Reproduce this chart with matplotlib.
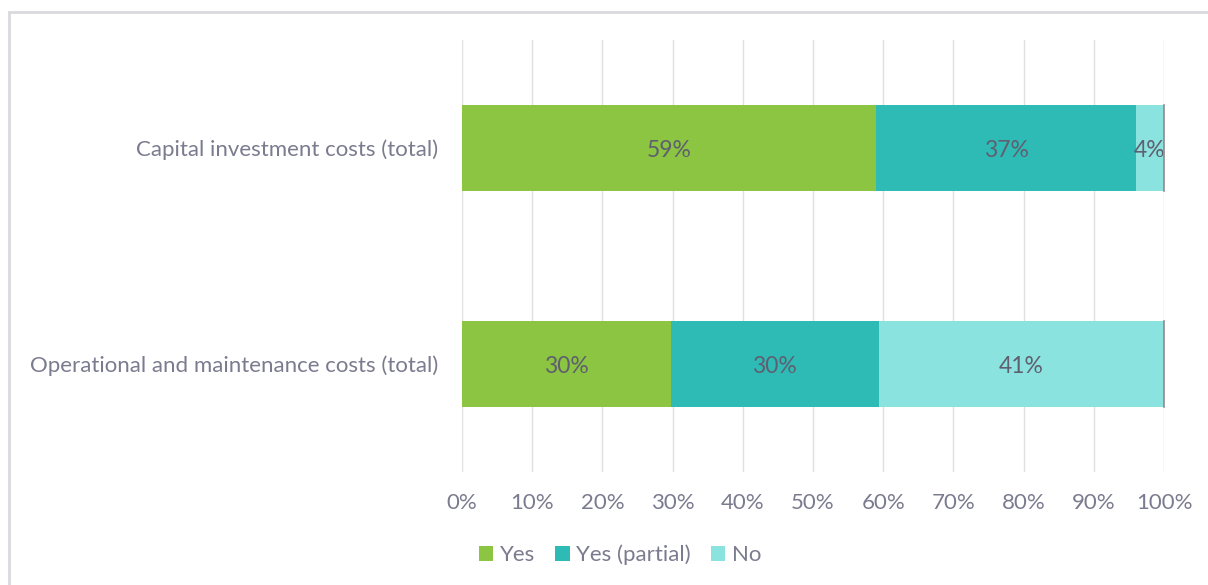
import matplotlib.pyplot as plt
from matplotlib.patches import Rectangle

plt.rcParams['font.family'] = ['Lato', 'DejaVu Sans']

categories = ['Capital investment costs (total)', 'Operational and maintenance costs (total)']
series = ['Yes', 'Yes (partial)', 'No']
yes = [59, 30]
yes_partial = [37, 30]
no = [4, 41]
colors = ['#8bc541', '#2ebbb5', '#8ae3df']
ticks = list(range(0, 101, 10))

text_color = '#7b7b8f'
label_color = '#5f5f6f'

fig = plt.figure(figsize=(12.08, 5.85), dpi=100)
ax = fig.add_axes([462 / 1208, 1 - 472 / 585, (1164 - 462) / 1208, 432 / 585])

# chart area frame
fig.patches.append(Rectangle((9 / 1208, -0.01), 1.2, 1 - 12 / 585 + 0.01,
                             transform=fig.transFigure, fill=False,
                             edgecolor='#d9d9de', linewidth=2))

# 100% stacked: each row is scaled by its own total
values = [yes, yes_partial, no]
totals = [sum(v[i] for v in values) for i in range(len(categories))]
ypos = list(range(len(categories)))
left = [0.0] * len(categories)
for name, vals, col in zip(series, values, colors):
    widths = [v / t * 100 for v, t in zip(vals, totals)]
    ax.barh(ypos, widths, left=left, height=0.4, color=col, label=name, zorder=2)
    for y, l, w, v in zip(ypos, left, widths, vals):
        ax.text(l + w / 2, y + 0.01, f'{v}%', ha='center', va='center',
                fontsize=16.5, color=label_color, zorder=3)
    left = [l + w for l, w in zip(left, widths)]

for y in ypos:
    ax.plot([100, 100], [y - 0.2, y + 0.2], color='#8c8c8c', linewidth=1.2,
            zorder=3, clip_on=False)

ax.set_xlim(0, 100)
ax.set_ylim(len(categories) - 0.5, -0.5)
ax.set_xticks(ticks)
ax.set_xticklabels([f'{t}%' for t in ticks])
ax.set_yticks(ypos)
ax.set_yticklabels(categories)
ax.tick_params(axis='both', length=0, labelsize=16, colors=text_color)
ax.tick_params(axis='x', pad=15)
ax.tick_params(axis='y', pad=17)
ax.grid(axis='x', color='#e0e0e0', linewidth=1, zorder=0)
for s in ax.spines.values():
    s.set_visible(False)

ax.legend(loc='center', bbox_to_anchor=(620 / 1208, 1 - 555 / 585), bbox_transform=fig.transFigure,
          ncol=3, frameon=False, fontsize=16, labelcolor=text_color,
          handlelength=0.65, handleheight=0.65, handletextpad=0.3, columnspacing=0.9)

fig.savefig('out.png', dpi=100, facecolor='white')
